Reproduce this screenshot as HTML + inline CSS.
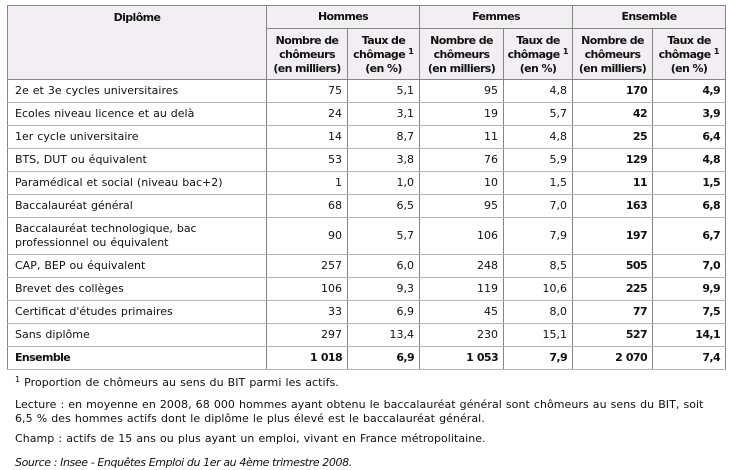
<!DOCTYPE html>
<html><head><meta charset="utf-8">
<style>
html,body{margin:0;padding:0;background:#fff;}
body{width:735px;height:468px;position:relative;overflow:hidden;font-family:"DejaVu Sans","Liberation Sans",sans-serif;font-size:11px;color:#111;}
table{position:absolute;left:7px;top:5px;border-collapse:collapse;table-layout:fixed;width:719px;border:1px solid #858585;}
td,th{padding:0;line-height:14px;}
th{background:#f2eef4;font-weight:bold;color:#111;text-align:center;border:1px solid #858585;letter-spacing:-0.6px;}
td{border-left:1px solid #858585;border-right:1px solid #858585;border-top:1px solid #b5b5b5;border-bottom:1px solid #b5b5b5;text-align:right;padding-right:5px;word-spacing:0.5px;}
td.l{text-align:left;padding-left:7px;padding-right:0;}
td.b{font-weight:bold;letter-spacing:-0.6px;}
tr.r td{height:22px;}
tr.tot td{font-weight:bold;letter-spacing:-0.6px;}
sup{font-size:8px;vertical-align:top;position:relative;top:-3px;letter-spacing:0;}
.f{position:absolute;left:15px;line-height:14px;white-space:nowrap;word-spacing:0.5px;letter-spacing:0.05px;}
</style></head><body>
<table>
<colgroup><col style="width:259px"><col style="width:81px"><col style="width:72px"><col style="width:84px"><col style="width:69px"><col style="width:80px"><col style="width:73px"></colgroup>
<tr style="height:23px"><th rowspan="2" style="vertical-align:top;padding-top:5px;">Diplôme</th><th colspan="2">Hommes</th><th colspan="2">Femmes</th><th colspan="2">Ensemble</th></tr>
<tr style="height:51px"><th style="padding-top:2px;">Nombre de<br>chômeurs<br>(en milliers)</th><th style="padding-top:2px;">Taux de<br>chômage <sup>1</sup><br>(en %)</th><th style="padding-top:2px;">Nombre de<br>chômeurs<br>(en milliers)</th><th style="padding-top:2px;">Taux de<br>chômage <sup>1</sup><br>(en %)</th><th style="padding-top:2px;">Nombre de<br>chômeurs<br>(en milliers)</th><th style="padding-top:2px;">Taux de<br>chômage <sup>1</sup><br>(en %)</th></tr>
<tr class="r"><td class="l">2e et 3e cycles universitaires</td><td>75</td><td>5,1</td><td>95</td><td>4,8</td><td class="b">170</td><td class="b">4,9</td></tr>
<tr class="r"><td class="l">Ecoles niveau licence et au delà</td><td>24</td><td>3,1</td><td>19</td><td>5,7</td><td class="b">42</td><td class="b">3,9</td></tr>
<tr class="r"><td class="l">1er cycle universitaire</td><td>14</td><td>8,7</td><td>11</td><td>4,8</td><td class="b">25</td><td class="b">6,4</td></tr>
<tr class="r"><td class="l">BTS, DUT ou équivalent</td><td>53</td><td>3,8</td><td>76</td><td>5,9</td><td class="b">129</td><td class="b">4,8</td></tr>
<tr class="r"><td class="l">Paramédical et social (niveau bac+2)</td><td>1</td><td>1,0</td><td>10</td><td>1,5</td><td class="b">11</td><td class="b">1,5</td></tr>
<tr class="r"><td class="l">Baccalauréat général</td><td>68</td><td>6,5</td><td>95</td><td>7,0</td><td class="b">163</td><td class="b">6,8</td></tr>
<tr style="height:37px"><td class="l">Baccalauréat technologique, bac<br>professionnel ou équivalent</td><td>90</td><td>5,7</td><td>106</td><td>7,9</td><td class="b">197</td><td class="b">6,7</td></tr>
<tr class="r"><td class="l">CAP, BEP ou équivalent</td><td>257</td><td>6,0</td><td>248</td><td>8,5</td><td class="b">505</td><td class="b">7,0</td></tr>
<tr class="r"><td class="l">Brevet des collèges</td><td>106</td><td>9,3</td><td>119</td><td>10,6</td><td class="b">225</td><td class="b">9,9</td></tr>
<tr class="r"><td class="l">Certificat d'études primaires</td><td>33</td><td>6,9</td><td>45</td><td>8,0</td><td class="b">77</td><td class="b">7,5</td></tr>
<tr class="r"><td class="l">Sans diplôme</td><td>297</td><td>13,4</td><td>230</td><td>15,1</td><td class="b">527</td><td class="b">14,1</td></tr>
<tr class="r tot"><td class="l">Ensemble</td><td>1 018</td><td>6,9</td><td>1 053</td><td>7,9</td><td>2 070</td><td>7,4</td></tr>
</table>
<div class="f" style="top:376px;"><sup>1</sup> Proportion de chômeurs au sens du BIT parmi les actifs.</div>
<div class="f" style="top:398px;">Lecture : en moyenne en 2008, 68 000 hommes ayant obtenu le baccalauréat général sont chômeurs au sens du BIT, soit</div>
<div class="f" style="top:412px;">6,5 % des hommes actifs dont le diplôme le plus élevé est le baccalauréat général.</div>
<div class="f" style="top:432px;">Champ : actifs de 15 ans ou plus ayant un emploi, vivant en France métropolitaine.</div>
<div class="f" style="top:456px;font-style:italic;letter-spacing:-0.4px;word-spacing:0;">Source : Insee - Enquêtes Emploi du 1er au 4ème trimestre 2008.</div>
</body></html>
